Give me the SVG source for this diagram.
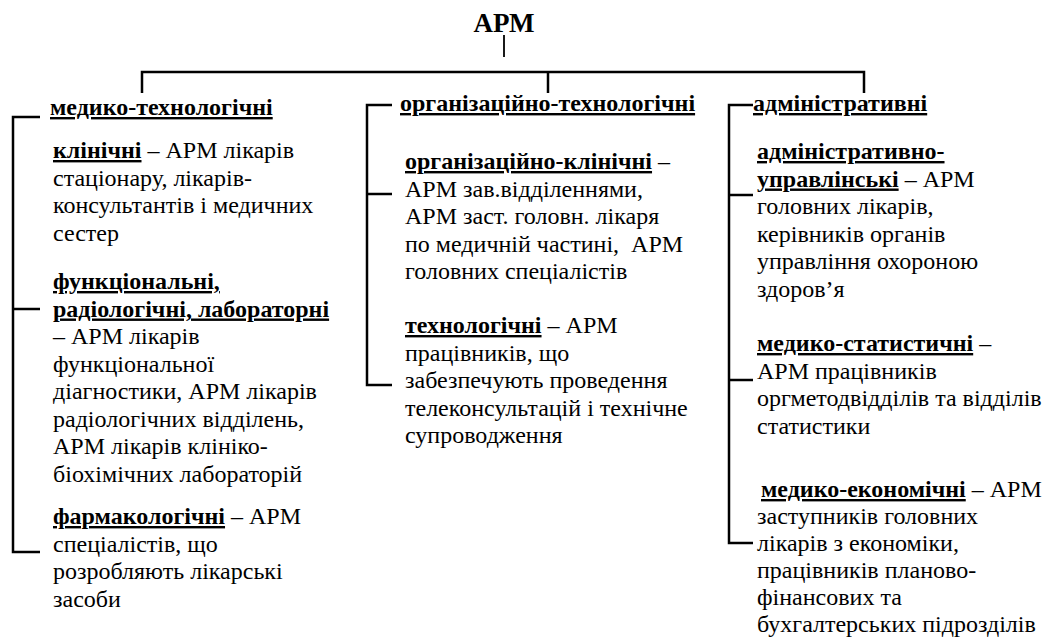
<svg xmlns="http://www.w3.org/2000/svg" width="1042" height="639" viewBox="0 0 1042 639">
<style>
text{font-family:"Liberation Serif",LiberationSerif,"Times New Roman",Times,Tinos,"Noto Serif","DejaVu Serif",FreeSerif,serif;font-size:24px;fill:#000;white-space:pre}
.b{font-weight:bold}
.u{text-decoration:underline}
.title{font-size:27px;font-weight:bold}
.ln{stroke:#000;stroke-width:2.5;fill:none}
.thin{stroke:#000;stroke-width:1.8;fill:none}
</style>
<rect width="1042" height="639" fill="#fff"/>
<g id="connectors">
<line class="thin" x1="504" y1="35" x2="504" y2="57"/>
<path class="ln" d="M142,93 V72 H864 V93"/>
<line class="ln" x1="548" y1="72" x2="548" y2="93"/>
<path class="ln" d="M40,117 H13 V552 H40"/>
<line class="ln" x1="13" y1="309" x2="40" y2="309"/>
<path class="ln" d="M392,105 H367 V385 H392"/>
<line class="ln" x1="367" y1="194" x2="392" y2="194"/>
<path class="ln" d="M753,105 H729 V543 H753"/>
<line class="ln" x1="729" y1="195" x2="753" y2="195"/>
<line class="ln" x1="729" y1="380" x2="753" y2="380"/>
</g>
<g id="root"><text class="title" x="504" y="32" text-anchor="middle" font-family="Liberation Serif">АРМ</text></g>
<g id="medtech"><text x="50" y="115" class="b u">медико-технологічні</text></g>
<g id="orgtech"><text x="400" y="111" class="b u">організаційно-технологічні</text></g>
<g id="admin"><text x="753" y="111" class="b u">адміністративні</text></g>
<g id="clinical">
<text x="53" y="158"><tspan class="b u">клінічні</tspan> – АРМ лікарів</text>
<text x="53" y="185.5">стаціонару, лікарів-</text>
<text x="53" y="213">консультантів і медичних</text>
<text x="53" y="240.5">сестер</text>
</g>
<g id="functional">
<text x="53" y="289" class="b u">функціональні,</text>
<text x="53" y="316.5" class="b u">радіологічні, лабораторні</text>
<text x="53" y="344">– АРМ лікарів</text>
<text x="53" y="371.5">функціональної</text>
<text x="53" y="399">діагностики, АРМ лікарів</text>
<text x="53" y="426.5">радіологічних відділень,</text>
<text x="53" y="454">АРМ лікарів клініко-</text>
<text x="53" y="481.5">біохімічних лабораторій</text>
</g>
<g id="pharma">
<text x="53" y="524"><tspan class="b u">фармакологічні</tspan> – АРМ</text>
<text x="53" y="551.5">спеціалістів, що</text>
<text x="53" y="579">розробляють лікарські</text>
<text x="53" y="606.5">засоби</text>
</g>
<g id="orgclinical">
<text x="405" y="169"><tspan class="b u">організаційно-клінічні</tspan> –</text>
<text x="405" y="196.5">АРМ зав.відділеннями,</text>
<text x="405" y="224">АРМ заст. головн. лікаря</text>
<text x="405" y="251.5">по медичній частині,  АРМ</text>
<text x="405" y="279">головних спеціалістів</text>
</g>
<g id="technological">
<text x="405" y="333"><tspan class="b u">технологічні</tspan> – АРМ</text>
<text x="405" y="360.5">працівників, що</text>
<text x="405" y="388">забезпечують проведення</text>
<text x="405" y="415.5">телеконсультацій і технічне</text>
<text x="405" y="443">супроводження</text>
</g>
<g id="adminmgmt">
<text x="757" y="159" class="b u">адміністративно-</text>
<text x="757" y="186.5"><tspan class="b u">управлінські</tspan> – АРМ</text>
<text x="757" y="214">головних лікарів,</text>
<text x="757" y="241.5">керівників органів</text>
<text x="757" y="269">управління охороною</text>
<text x="757" y="296.5">здоров’я</text>
</g>
<g id="medstat">
<text x="757" y="351"><tspan class="b u">медико-статистичні</tspan> –</text>
<text x="757" y="378.5">АРМ працівників</text>
<text x="757" y="406">оргметодвідділів та відділів</text>
<text x="757" y="433.5">статистики</text>
</g>
<g id="medecon">
<text x="761" y="497"><tspan class="b u">медико-економічні</tspan> – АРМ</text>
<text x="757" y="524">заступників головних</text>
<text x="757" y="551">лікарів з економіки,</text>
<text x="757" y="578">працівників планово-</text>
<text x="757" y="605">фінансових та</text>
<text x="757" y="632">бухгалтерських підрозділів</text>
</g>
</svg>
